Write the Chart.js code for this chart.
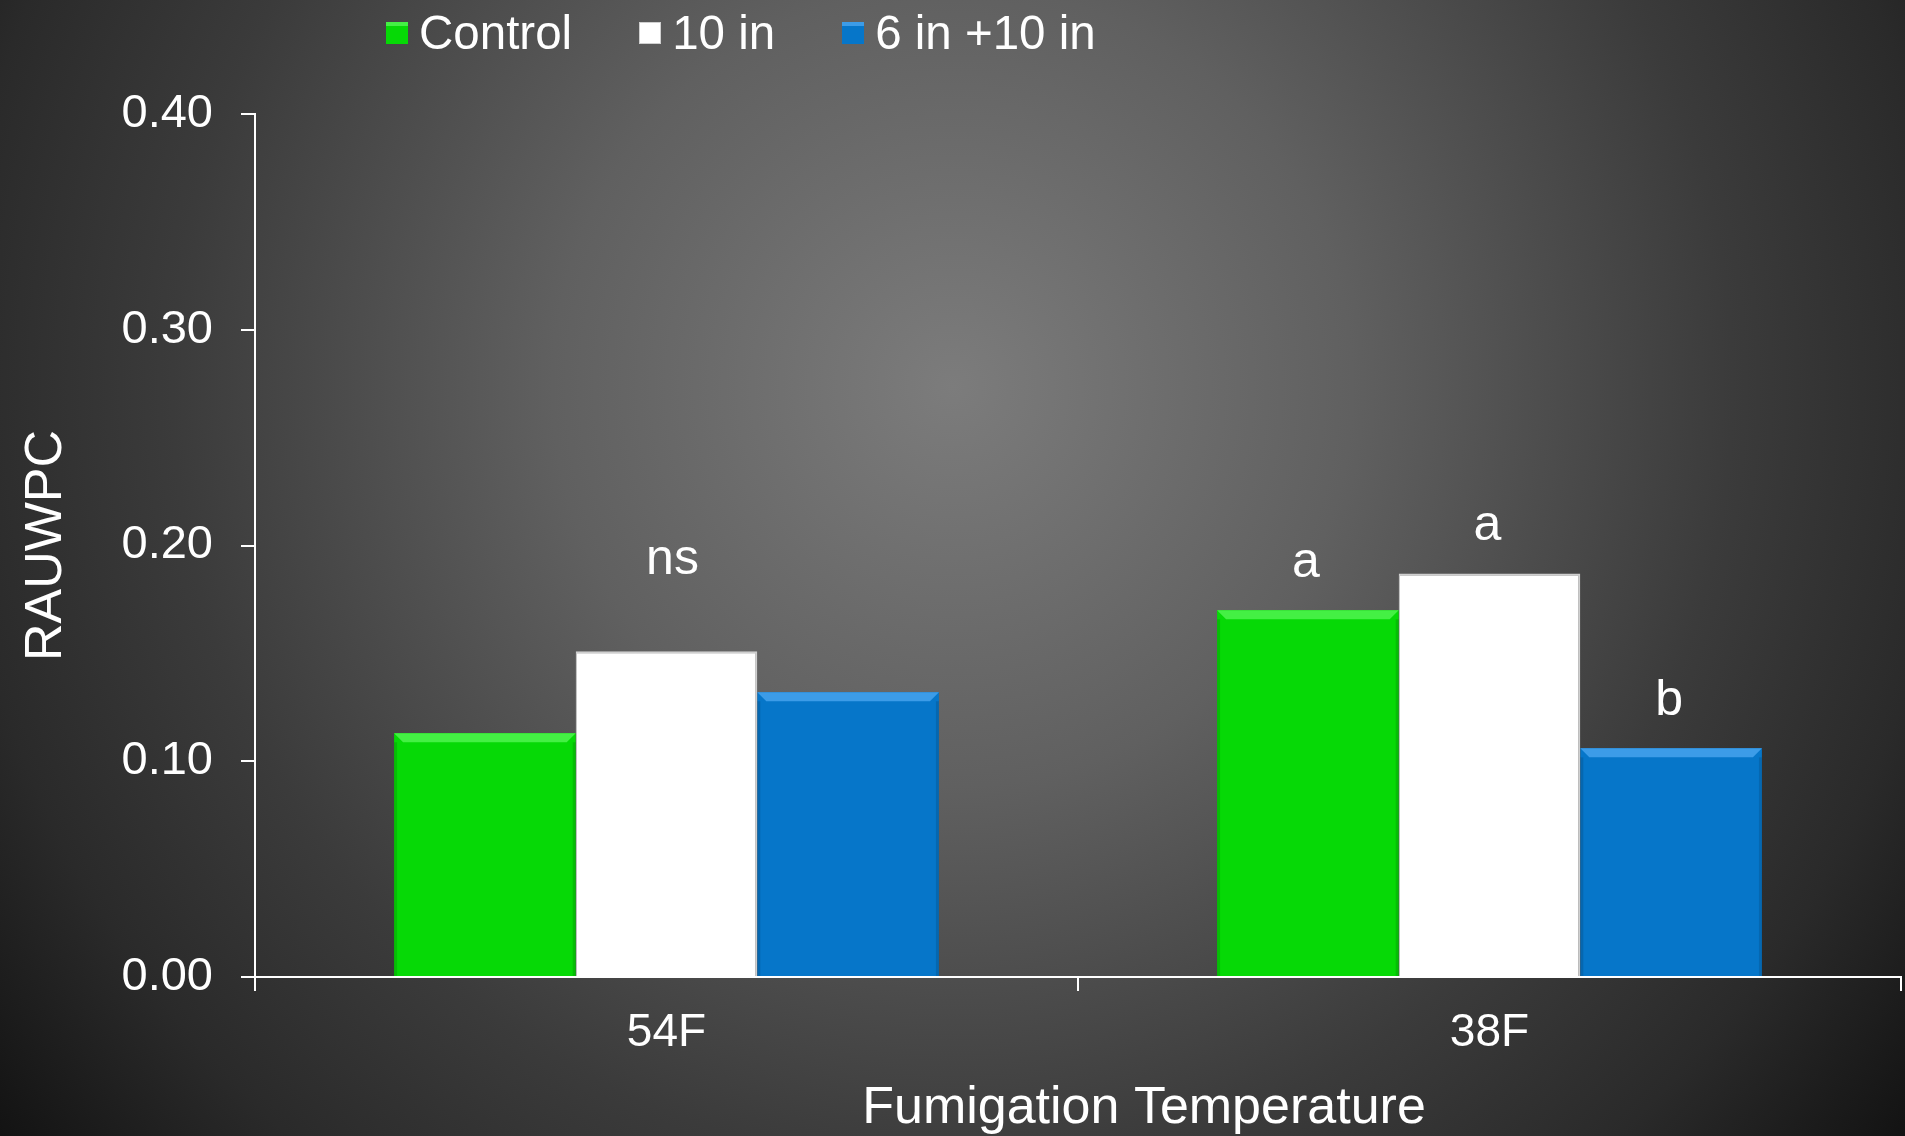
<!DOCTYPE html>
<html>
<head>
<meta charset="utf-8">
<script src="https://cdn.jsdelivr.net/npm/chart.js@4.4.1/dist/chart.umd.min.js"></script>
<style>
    html, body { margin: 0; padding: 0; }
    body {
        width: 1905px;
        height: 1136px;
        overflow: hidden;
        position: relative;
        background: radial-gradient(circle at 50% 34%, #7c7c7c 0px, #606060 400px, #3b3b3b 780px, #2a2a2a 1000px, #121212 1220px);
        font-family: 'Liberation Sans', Arial, sans-serif;
    }
    .chart-wrap { position: absolute; left: 0; top: 0; width: 1905px; height: 1136px; }
    #legend {
        position: absolute;
        left: 386px;
        top: 4px;
        display: flex;
        align-items: center;
        color: #ffffff;
        font-size: 47.5px;
        line-height: 58px;
    }
    .legend-item { display: flex; align-items: center; margin-right: 67px; }
    .legend-box { width: 22px; height: 22px; margin-right: 11px; box-sizing: border-box; }
</style>
</head>
<body>
<div class="chart-wrap"><canvas id="fumigationChart"></canvas></div>
<div id="legend"></div>
<script>
const categories = ['54F', '38F'];
const seriesNames = ['Control', '10 in', '6 in +10 in'];
const controlValues = [0.113, 0.170];
const tenInValues = [0.151, 0.187];
const sixTenValues = [0.132, 0.106];
const controlLetters = ['', 'a'];
const tenInLetters = ['', 'a'];
const sixTenLetters = ['', 'b'];
const groupNotes = ['ns', ''];
const yTickValues = [0, 0.1, 0.2, 0.3, 0.4];

const barColors = ['#06d906', '#ffffff', '#0676c9'];
const edgeColors = ['#44f044', '#cfcfcf', '#3c9ce8'];
const fontFamily = "'Liberation Sans', Arial, sans-serif";

// light bevel strip on top of the coloured bars
const bevelPlugin = {
    id: 'bevelPlugin',
    afterDatasetsDraw(chart) {
        const ctx = chart.ctx;
        const h = 9;
        ctx.save();
        [0, 2].forEach(function (d) {
            chart.getDatasetMeta(d).data.forEach(function (bar) {
                const left = bar.x - bar.width / 2;
                const right = bar.x + bar.width / 2;
                ctx.fillStyle = edgeColors[d];
                ctx.beginPath();
                ctx.moveTo(left, bar.y);
                ctx.lineTo(right, bar.y);
                ctx.lineTo(right - h, bar.y + h);
                ctx.lineTo(left + h, bar.y + h);
                ctx.closePath();
                ctx.fill();
                // darker side edges
                ctx.fillStyle = 'rgba(0,0,0,0.12)';
                ctx.fillRect(left, bar.y + h, 3, bar.base - bar.y - h);
                ctx.fillRect(right - 3, bar.y + h, 3, bar.base - bar.y - h);
            });
        });
        ctx.restore();
    }
};

// significance letters above bars, group note above the tallest bar
const letterPlugin = {
    id: 'letterPlugin',
    afterDatasetsDraw(chart) {
        const ctx = chart.ctx;
        const letterSets = [controlLetters, tenInLetters, sixTenLetters];
        ctx.save();
        ctx.fillStyle = '#ffffff';
        ctx.font = '50px ' + fontFamily;
        ctx.textAlign = 'center';
        ctx.textBaseline = 'middle';
        categories.forEach(function (cat, i) {
            let topY = Infinity;
            let sumX = 0;
            letterSets.forEach(function (letters, d) {
                const bar = chart.getDatasetMeta(d).data[i];
                topY = Math.min(topY, bar.y);
                sumX += bar.x;
                if (letters[i]) {
                    ctx.fillText(letters[i], bar.x - 2, bar.y - 47);
                }
            });
            if (groupNotes[i]) {
                ctx.fillText(groupNotes[i], sumX / letterSets.length + 6, topY - 91);
            }
        });
        ctx.restore();
    },
    afterDraw(chart) {
        // x axis title sits a little right of centre in the original
        const ctx = chart.ctx;
        const area = chart.chartArea;
        ctx.save();
        ctx.fillStyle = '#ffffff';
        ctx.font = '52px ' + fontFamily;
        ctx.textAlign = 'center';
        ctx.textBaseline = 'middle';
        ctx.fillText('Fumigation Temperature', (area.left + area.right) / 2 + 66, chart.height - 27);
        ctx.restore();
    }
};

const chart = new Chart(document.getElementById('fumigationChart'), {
    type: 'bar',
    data: {
        labels: categories,
        datasets: [
            {
                label: seriesNames[0],
                data: controlValues,
                backgroundColor: barColors[0],
                borderColor: edgeColors[0],
                borderWidth: 0
            },
            {
                label: seriesNames[1],
                data: tenInValues,
                backgroundColor: barColors[1],
                borderColor: edgeColors[1],
                borderWidth: { top: 2, left: 1, right: 2, bottom: 0 }
            },
            {
                label: seriesNames[2],
                data: sixTenValues,
                backgroundColor: barColors[2],
                borderColor: edgeColors[2],
                borderWidth: 0
            }
        ]
    },
    options: {
        responsive: true,
        maintainAspectRatio: false,
        animation: false,
        categoryPercentage: 0.662,
        barPercentage: 1.0,
        layout: {
            padding: { top: 114, right: 4, bottom: 0, left: 0 }
        },
        scales: {
            x: {
                grid: {
                    display: true,
                    offset: true,
                    drawOnChartArea: false,
                    drawTicks: true,
                    tickLength: 14,
                    color: '#ffffff',
                    lineWidth: 2
                },
                border: { display: true, color: '#ffffff', width: 2 },
                ticks: {
                    color: '#ffffff',
                    padding: 15,
                    font: { family: fontFamily, size: 46 }
                },
                afterFit: function (scale) {
                    scale.height = 159;
                }
            },
            y: {
                min: 0,
                max: 0.4,
                afterBuildTicks: function (scale) {
                    scale.ticks = yTickValues.map(function (v) { return { value: v }; });
                },
                grid: {
                    display: true,
                    drawOnChartArea: false,
                    drawTicks: true,
                    tickLength: 14,
                    color: '#ffffff',
                    lineWidth: 2
                },
                border: { display: true, color: '#ffffff', width: 2 },
                ticks: {
                    color: '#ffffff',
                    padding: 28,
                    font: { family: fontFamily, size: 47 },
                    callback: function (value) {
                        return Number(value).toFixed(2);
                    }
                },
                title: {
                    display: true,
                    text: 'RAUWPC',
                    color: '#ffffff',
                    font: { family: fontFamily, size: 52 },
                    padding: { top: 15, bottom: 0 }
                },
                afterFit: function (scale) {
                    scale.width = 255;
                }
            }
        },
        plugins: {
            legend: { display: false },
            tooltip: { enabled: false }
        }
    },
    plugins: [bevelPlugin, letterPlugin]
});

// html legend built from the chart datasets
const legendNode = document.getElementById('legend');
chart.data.datasets.forEach(function (ds) {
    const item = document.createElement('div');
    item.className = 'legend-item';
    const box = document.createElement('span');
    box.className = 'legend-box';
    box.style.background = ds.backgroundColor;
    box.style.borderTop = '4px solid ' + ds.borderColor;
    if (ds.backgroundColor === '#ffffff') {
        box.style.border = '1px solid #cfcfcf';
    }
    const text = document.createElement('span');
    text.textContent = ds.label;
    item.appendChild(box);
    item.appendChild(text);
    legendNode.appendChild(item);
});
</script>
</body>
</html>
